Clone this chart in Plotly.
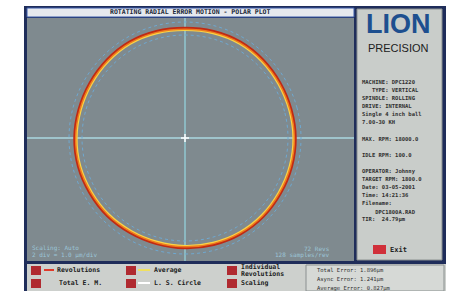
import plotly.graph_objects as go

W, H = 462, 291

# ---- data ----
angles = [0, 15, 30, 45, 60, 75, 90, 105, 120, 135, 150, 165,
          180, 195, 210, 225, 240, 255, 270, 285, 300, 315, 330, 345]
rev_outer = [11.05, 11.0, 11.0, 11.05, 11.1, 11.05, 11.0, 11.05, 11.1, 11.05, 11.0, 11.0,
             11.05, 11.05, 11.0, 11.0, 10.95, 10.95, 11.0, 11.05, 11.1, 11.1, 11.05, 11.05]
rev_mid = [10.9, 10.85, 10.85, 10.9, 10.95, 10.9, 10.85, 10.9, 10.95, 10.9, 10.85, 10.85,
           10.9, 10.9, 10.85, 10.85, 10.8, 10.8, 10.85, 10.9, 10.95, 10.95, 10.9, 10.9]
average = [10.8, 10.75, 10.75, 10.8, 10.85, 10.8, 10.75, 10.8, 10.85, 10.8, 10.75, 10.75,
           10.8, 10.8, 10.75, 10.75, 10.7, 10.7, 10.75, 10.8, 10.85, 10.85, 10.8, 10.8]
ref_outer = [11.6] * 24
ref_inner = [10.3] * 24

title_text = "ROTATING RADIAL ERROR MOTION - POLAR PLOT"
info_lines = ["MACHINE: DPC1220", "   TYPE: VERTICAL", "SPINDLE: ROLLING", "DRIVE: INTERNAL",
              "Single 4 inch ball", "7.00-30 KH", "", "MAX. RPM: 18000.0", "",
              "IDLE RPM: 100.0", "", "OPERATOR: Johnny", "TARGET RPM: 1800.0",
              "Date: 03-05-2001", "Time: 14:21:36", "Filename:", "    DPC1800A.RAD",
              "TIR:  24.79µm"]
errors = ["Total Error: 1.896µm", "Async Error: 1.241µm", "Average Error: 0.827µm"]

cx, cy, s = 185, 138, 120


def px(x):
    return x / W


def py(y):
    return 1 - y / H


fig = go.Figure()


def closed(a, r):
    return a + [a[0] + 360], r + [r[0]]


for r, col, wd, dash in [(ref_outer, "#6fa8d0", 1, "dot"), (ref_inner, "#6fa8d0", 1, "dot"),
                         (rev_outer, "#c02a14", 2.5, "solid"), (rev_mid, "#f07a1c", 2.2, "solid"),
                         (average, "#f8d448", 1.2, "solid")]:
    a, rr = closed(angles, r)
    fig.add_trace(go.Scatterpolar(theta=a, r=rr, mode="lines",
                                  line=dict(color=col, width=wd, dash=dash, shape="spline"),
                                  hoverinfo="skip", showlegend=False))

fig.update_layout(
    width=W, height=H, margin=dict(l=0, r=0, t=0, b=0),
    paper_bgcolor="white", plot_bgcolor="white", showlegend=False,
    polar=dict(domain=dict(x=[px(cx - s), px(cx + s)], y=[py(cy + s), py(cy - s)]),
               bgcolor="rgba(0,0,0,0)",
               radialaxis=dict(range=[0, 12], visible=False),
               angularaxis=dict(visible=False)),
)

shapes = []


def rect(x0, y0, x1, y1, fill, line=None, lw=0, layer="below"):
    shapes.append(dict(type="rect", xref="paper", yref="paper",
                       x0=px(x0), x1=px(x1), y0=py(y1), y1=py(y0),
                       fillcolor=fill, line=dict(color=line or fill, width=lw), layer=layer))


def line(x0, y0, x1, y1, col, lw=1, layer="below"):
    shapes.append(dict(type="line", xref="paper", yref="paper",
                       x0=px(x0), x1=px(x1), y0=py(y0), y1=py(y1),
                       line=dict(color=col, width=lw), layer=layer))


# frame
rect(24, 6, 446, 291, "#1f2d5a")
# plot area
rect(27, 18, 354, 261, "#7f8a8f")
# title bar
rect(27, 8, 354, 17, "#e6e9ee", "#3a5aa8", 1)
# right panel
rect(357, 9, 442, 260, "#c9cdca", "#8a9090", 1)
# bottom panel
rect(27, 264, 446, 291, "#cdd0cd")
rect(306, 265, 444, 291, "#d6d9d6", "#8a9090", 1)
# crosshairs
line(27, cy, 354, cy, "#9fc4cc", 2)
line(cx, 18, cx, 261, "#8cb8c0", 2)
line(cx - 4, cy, cx + 4, cy, "white", 1.5, "above")
line(cx, cy - 4, cx, cy + 4, "white", 1.5, "above")
# exit button
rect(373, 245, 386, 254, "#d0303a")
# bottom buttons
for bx in (31, 126, 227):
    rect(bx, 266, bx + 10, 275, "#b02a30")
    rect(bx, 279, bx + 10, 288, "#b02a30")
line(44, 270, 54, 270, "#e03a2a", 2)
line(138, 270, 150, 270, "#f0e060", 2)
line(138, 283, 150, 283, "white", 2)

fig.update_layout(shapes=shapes)

mono = "DejaVu Sans Mono"
ann = []


def text(x, y, t, size=6, color="#202020", anchor="left", font=mono, bold=True):
    ann.append(dict(xref="paper", yref="paper", x=px(x), y=py(y), text=("<b>%s</b>" % t) if bold else t,
                    showarrow=False, xanchor=anchor, yanchor="middle",
                    font=dict(family=font, size=size, color=color)))


text(190, 12.5, title_text, 6.5, "#202838", "center")
text(398, 24, "LION", 27, "#1d4f8f", "center", "Liberation Sans")
text(398, 48, "PRECISION", 11, "#202020", "center", "Liberation Sans", False)
y = 82
for ln in info_lines:
    if ln:
        text(360, y, ln.replace(" ", "&nbsp;"), 5.5, "#303030")
    y += 8.1
text(388, 250, "Exit", 7, "#202020")
text(30, 248, "Scaling: Auto", 6, "#9cc6d8", bold=False)
text(30, 255, "2 div = 1.0 µm/div", 6, "#9cc6d8", bold=False)
text(332, 248, "72 Revs", 6, "#9cc6d8", "right", bold=False)
text(332, 255, "128 samples/rev", 6, "#9cc6d8", "right", bold=False)
text(55, 270, "Revolutions", 6.5)
text(57, 283, "Total E. M.", 6.5)
text(152, 270, "Average", 6.5)
text(152, 283, "L. S. Circle", 6.5)
text(239, 267, "Individual", 6.5)
text(239, 274, "Revolutions", 6.5)
text(239, 283, "Scaling", 6.5)
for i, e in enumerate(errors):
    text(315, 270 + i * 9, e, 5.5, "#303030", bold=False)

fig.update_layout(annotations=ann)
fig.write_html("out.html", config={"displayModeBar": False},
               post_script="document.body.style.margin='0';document.body.style.overflow='hidden';")
